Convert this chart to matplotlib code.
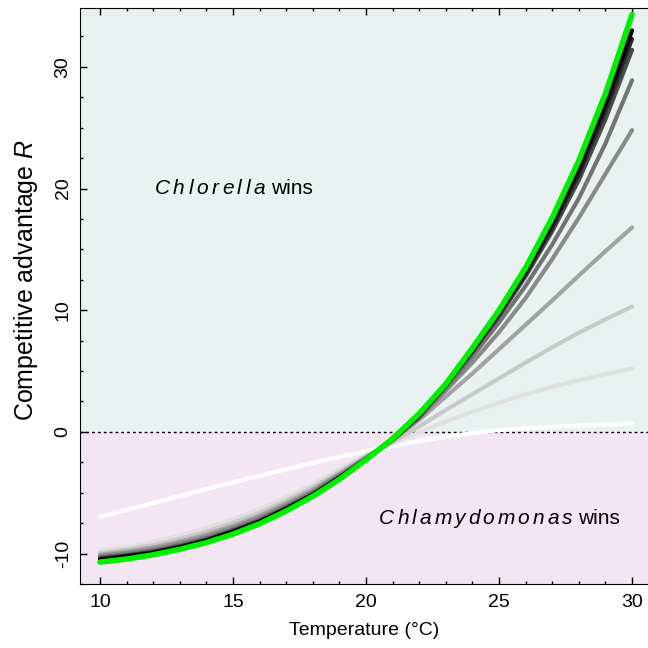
import matplotlib
matplotlib.use("Agg")
import matplotlib.pyplot as plt
from matplotlib.ticker import MultipleLocator
from matplotlib.transforms import offset_copy

plt.rcParams['font.family'] = ['Liberation Sans', 'DejaVu Sans']
plt.rcParams['mathtext.fontset'] = 'custom'
plt.rcParams['mathtext.rm'] = 'Liberation Sans'
plt.rcParams['mathtext.it'] = 'Liberation Sans:italic'
plt.rcParams['axes.unicode_minus'] = False

# temperature grid (deg C) where each curve was sampled
temp = [10, 11, 12, 13, 14, 15, 16, 17, 18, 19, 20, 21, 22, 23, 24, 25, 26, 27, 28, 29, 30]

# competitive advantage R, from the flattest curve (white) to the steepest (black)
r_white = [-7.0, -6.42, -5.85, -5.27, -4.7, -4.15, -3.6, -3.07, -2.55, -2.05, -1.6, -1.15,
           -0.75, -0.4, -0.1, 0.15, 0.3, 0.42, 0.52, 0.6, 0.65]
r_g1 = [-9.75, -9.45, -9.05, -8.52, -7.9, -7.17, -6.35, -5.37, -4.3, -3.1, -1.9, -0.95,
        -0.05, 0.85, 1.65, 2.4, 3.1, 3.7, 4.25, 4.75, 5.2]
r_g2 = [-9.95, -9.66, -9.3, -8.8, -8.2, -7.47, -6.65, -5.65, -4.55, -3.3, -2.0, -0.85,
        0.45, 1.8, 3.1, 4.4, 5.7, 6.95, 8.15, 9.25, 10.3]
r_g3 = [-10.1, -9.83, -9.5, -9.02, -8.45, -7.72, -6.9, -5.87, -4.75, -3.45, -2.1, -0.7,
        1.0, 2.9, 4.8, 6.8, 8.8, 10.8, 12.85, 14.85, 16.8]
r_g4 = [-10.2, -9.95, -9.65, -9.17, -8.6, -7.87, -7.05, -6.02, -4.9, -3.55, -2.15, -0.7,
        1.1, 3.4, 5.7, 8.2, 11.0, 14.2, 17.6, 21.2, 24.8]
r_g5 = [-10.3, -10.05, -9.75, -9.3, -8.75, -8.02, -7.2, -6.15, -5.0, -3.65, -2.2, -0.65,
        1.2, 3.6, 6.2, 9.0, 12.0, 15.4, 19.2, 23.7, 28.9]
r_g6 = [-10.4, -10.15, -9.85, -9.4, -8.85, -8.12, -7.3, -6.25, -5.1, -3.7, -2.22, -0.6,
        1.3, 3.8, 6.55, 9.5, 12.8, 16.5, 20.7, 25.7, 31.4]
r_g7 = [-10.45, -10.2, -9.9, -9.45, -8.9, -8.17, -7.35, -6.3, -5.15, -3.75, -2.25, -0.6,
        1.3, 3.85, 6.65, 9.65, 13.0, 16.8, 21.2, 26.4, 32.3]
r_g8 = [-10.5, -10.25, -9.95, -9.5, -8.95, -8.22, -7.4, -6.35, -5.2, -3.8, -2.28, -0.6,
        1.35, 3.9, 6.75, 9.8, 13.2, 17.1, 21.6, 26.9, 33.0]
r_green = [-10.7, -10.45, -10.1, -9.65, -9.1, -8.4, -7.55, -6.5, -5.3, -3.9, -2.3, -0.55,
           1.5, 3.95, 6.9, 10.0, 13.5, 17.6, 22.3, 27.8, 34.3]

curves = [r_white, r_g1, r_g2, r_g3, r_g4, r_g5, r_g6, r_g7, r_g8]
shades = ['#ffffff', '#e0e0e0', '#c8c8c8', '#a3a3a3', '#8a8a8a', '#737373', '#4a4a4a', '#262626', '#000000']

fig = plt.figure(figsize=(6.48, 6.48), dpi=100)
ax = fig.add_axes([0.1235, 0.0988, 0.8765, 0.889])

xmin, xmax = 9.25, 30.6
ymin, ymax = -12.5, 34.85
ax.set_xlim(xmin, xmax)
ax.set_ylim(ymin, ymax)

# shaded regions: who wins
ax.axhspan(0, ymax, color='#e9f2f0', zorder=0)
ax.axhspan(ymin, 0, color='#f3e6f2', zorder=0)
ax.axhline(0, color='black', linestyle=(0, (2, 2.2)), linewidth=1.0, zorder=1)

for r, c in zip(curves, shades):
    ax.plot(temp, r, color=c, linewidth=3.0, solid_capstyle='round', zorder=2)
ax.plot(temp, r_green, color='#00ee00', linewidth=4.0, solid_capstyle='round', zorder=3)

renderer = fig.canvas.get_renderer()


def spaced_label(x, y, genus, track=3.2, size=15):
    # italic genus name with letter spacing, then a plain "wins"
    dx = 0.0
    for ch in genus:
        t = ax.text(x, y, ch, style='italic', fontsize=size, va='center', ha='left',
                    transform=offset_copy(ax.transData, fig=fig, x=dx, y=0, units='dots'))
        dx += t.get_window_extent(renderer).width + track
    dx += 3.0
    ax.text(x, y, 'wins', fontsize=size, va='center', ha='left',
            transform=offset_copy(ax.transData, fig=fig, x=dx, y=0, units='dots'))


spaced_label(12.05, 20.0, 'Chlorella', track=3.5)
spaced_label(20.5, -7.15, 'Chlamydomonas', track=3.0)

ax.xaxis.set_major_locator(MultipleLocator(5))
ax.xaxis.set_minor_locator(MultipleLocator(1))
ax.yaxis.set_major_locator(MultipleLocator(10))
ax.yaxis.set_minor_locator(MultipleLocator(2.5))
ax.tick_params(axis='both', which='both', direction='in', top=True, right=False, labelsize=14)
ax.tick_params(which='major', length=5, width=1)
ax.tick_params(which='minor', length=2.5, width=1)
ax.tick_params(axis='x', pad=7)
ax.tick_params(axis='y', pad=6)
for lab in ax.get_yticklabels():
    lab.set_rotation(90)
    lab.set_va('center')
ax.spines['right'].set_visible(False)

ax.set_xlabel('Temperature (°C)', fontsize=14, labelpad=8)
ax.set_ylabel('Competitive advantage $R$', fontsize=18)
ax.yaxis.set_label_coords(-0.07, 0.528)

fig.savefig('out.png', dpi=100)
